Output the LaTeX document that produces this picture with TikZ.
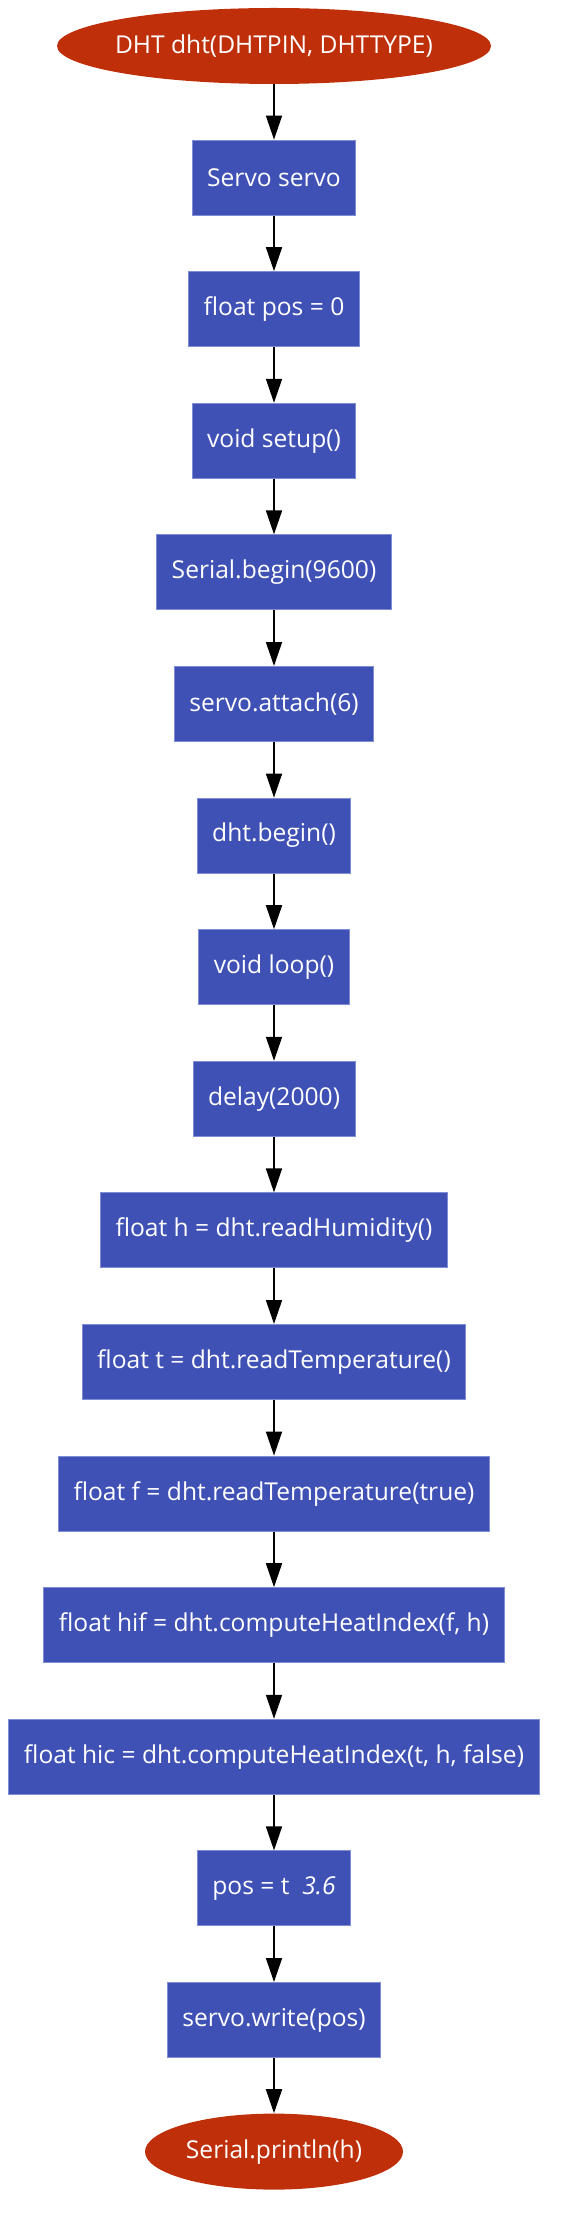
\documentclass[tikz,border=0pt]{standalone}
\usepackage{fontspec}
\setmainfont{Open Sans}
\usepackage{tikz}
\usetikzlibrary{arrows.meta,shapes.geometric}
\definecolor{flowblue}{HTML}{3F51B5}
\definecolor{flowedge}{HTML}{7F8CD6}
\definecolor{flowred}{HTML}{BF300A}

\begin{document}
\begin{tikzpicture}[x=0.5pt,y=-0.5pt,>={Triangle[length=12pt,width=8pt]},
    every node/.style={font=\fontsize{12.3}{14}\selectfont,text=white},
    stepbox/.style={draw=flowedge,line width=0.5pt,fill=flowblue,minimum height=37.5pt,inner xsep=7.5pt},
    termnode/.style={ellipse,fill=flowred,inner xsep=-3pt,inner ysep=0pt,minimum height=38pt},
    flow/.style={->,line width=0.85pt}]
        \useasboundingbox (0,0) rectangle (561,2214);
        % declarations
        \node[termnode,minimum width=217pt] (dht) at (274,46) {DHT dht(DHTPIN, DHTTYPE)};
        \node[stepbox] (servo) at (274,177.6) {Servo servo};
        \node[stepbox] (pos) at (274,309.2) {float pos = 0};
        % setup
        \node[stepbox] (setup) at (274,440.8) {void setup()};
        \node[stepbox] (sbegin) at (274,572.4) {Serial.begin(9600)};
        \node[stepbox] (attach) at (274,704) {servo.attach(6)};
        \node[stepbox] (dbegin) at (274,835.6) {dht.begin()};
        % loop
        \node[stepbox] (loop) at (274,967.2) {void loop()};
        \node[stepbox] (delay) at (274,1098.8) {delay(2000)};
        \node[stepbox] (hum) at (274,1230.4) {float h = dht.readHumidity()};
        \node[stepbox] (temp) at (274,1362) {float t = dht.readTemperature()};
        \node[stepbox] (fahr) at (274,1493.6) {float f = dht.readTemperature(true)};
        \node[stepbox] (hif) at (274,1625.2) {float hif = dht.computeHeatIndex(f, h)};
        \node[stepbox] (hic) at (274,1756.8) {float hic = dht.computeHeatIndex(t, h, false)};
        \node[stepbox] (posset) at (274,1888.4) {pos = t\ \ \textit{3.6}};
        \node[stepbox] (write) at (274,2020) {servo.write(pos)};
        \node[termnode,minimum width=129pt] (print) at (274,2151.6) {Serial.println(h)};
        % arrows
        \draw[flow] (dht) -- (servo);
        \draw[flow] (servo) -- (pos);
        \draw[flow] (pos) -- (setup);
        \draw[flow] (setup) -- (sbegin);
        \draw[flow] (sbegin) -- (attach);
        \draw[flow] (attach) -- (dbegin);
        \draw[flow] (dbegin) -- (loop);
        \draw[flow] (loop) -- (delay);
        \draw[flow] (delay) -- (hum);
        \draw[flow] (hum) -- (temp);
        \draw[flow] (temp) -- (fahr);
        \draw[flow] (fahr) -- (hif);
        \draw[flow] (hif) -- (hic);
        \draw[flow] (hic) -- (posset);
        \draw[flow] (posset) -- (write);
        \draw[flow] (write) -- (print);
      \end{tikzpicture}
\end{document}
